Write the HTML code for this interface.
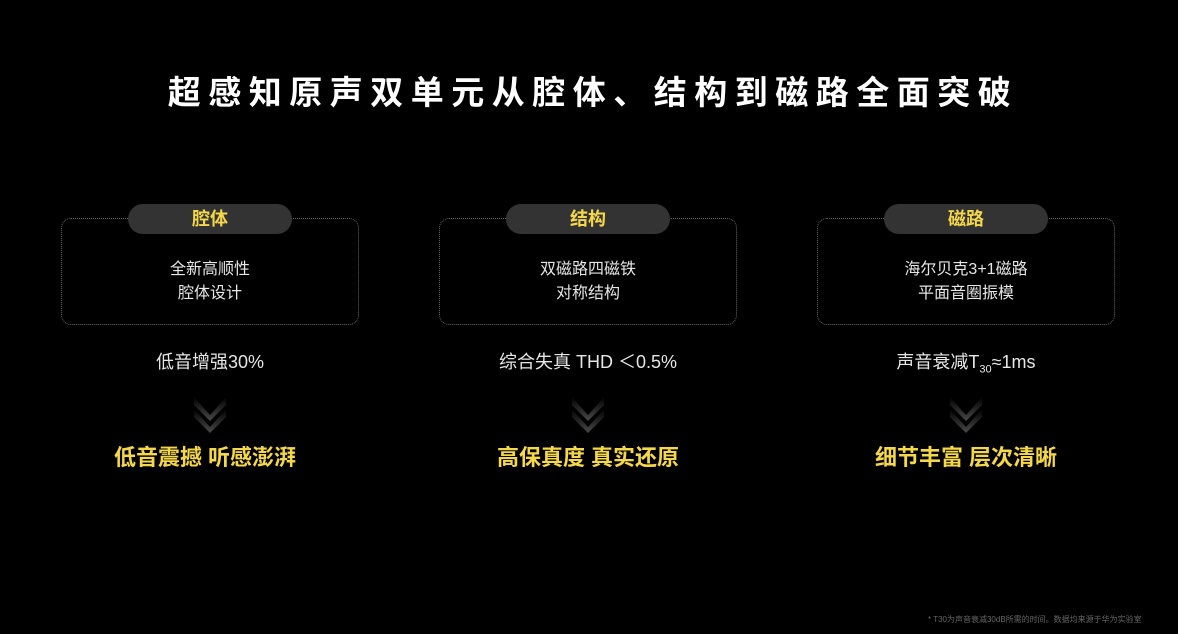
<!DOCTYPE html>
<html><head><meta charset="utf-8"><style>
html,body{margin:0;padding:0;background:#000;}
body{width:1178px;height:634px;position:relative;overflow:hidden;font-family:"Liberation Sans","Noto Sans CJK SC",sans-serif;color:#e6e6e6;}
.title{position:absolute;top:66px;left:4px;width:1178px;text-align:center;font-size:33px;font-weight:bold;color:#fff;letter-spacing:7.5px;}
.box{position:absolute;top:218px;width:298px;height:107px;border:1.5px dotted #666;border-radius:10px;box-sizing:border-box;}
.pill{position:absolute;top:204px;width:164px;height:30px;border-radius:15px;background:#333;color:#f5d84a;font-weight:bold;font-size:18px;text-align:center;line-height:30px;}
.desc{position:absolute;top:258px;width:298px;text-align:center;font-size:16px;line-height:24px;color:#e6e6e6;}
.metric{position:absolute;top:348px;width:300px;text-align:center;font-size:18px;color:#e6e6e6;}
.res{position:absolute;top:440px;width:300px;text-align:center;font-size:22px;font-weight:bold;color:#f5d84a;}
.chev{position:absolute;top:393px;width:40px;height:42px;}
.note{position:absolute;top:614px;left:928px;font-size:8px;color:#666;}
</style></head><body>
<div class="title">超感知原声双单元从腔体、结构到磁路全面突破</div>

<div class="box" style="left:61px"></div>
<div class="box" style="left:439px"></div>
<div class="box" style="left:817px"></div>
<div class="pill" style="left:128px">腔体</div>
<div class="pill" style="left:506px">结构</div>
<div class="pill" style="left:884px">磁路</div>
<div class="desc" style="left:61px">全新高顺性<br>腔体设计</div>
<div class="desc" style="left:439px">双磁路四磁铁<br>对称结构</div>
<div class="desc" style="left:817px">海尔贝克3+1磁路<br>平面音圈振模</div>
<div class="metric" style="left:60px">低音增强30%</div>
<div class="metric" style="left:438px">综合失真 THD ＜0.5%</div>
<div class="metric" style="left:816px">声音衰减T<sub style="font-size:11px">30</sub>≈1ms</div>

<svg class="chev" style="left:190px" viewBox="0 0 40 42"><defs><linearGradient id="g" x1="0" y1="0" x2="0" y2="1"><stop offset="0" stop-color="#000"/><stop offset="1" stop-color="#4a4a4a"/></linearGradient></defs><path d="M4 4 L20 22 L36 4 L36 12 L20 28 L4 12Z" fill="url(#g)"/><path d="M4 16 L20 34 L36 16 L36 24 L20 40 L4 24Z" fill="url(#g)"/></svg>
<svg class="chev" style="left:568px" viewBox="0 0 40 42"><path d="M4 4 L20 22 L36 4 L36 12 L20 28 L4 12Z" fill="url(#g)"/><path d="M4 16 L20 34 L36 16 L36 24 L20 40 L4 24Z" fill="url(#g)"/></svg>
<svg class="chev" style="left:946px" viewBox="0 0 40 42"><path d="M4 4 L20 22 L36 4 L36 12 L20 28 L4 12Z" fill="url(#g)"/><path d="M4 16 L20 34 L36 16 L36 24 L20 40 L4 24Z" fill="url(#g)"/></svg>

<div class="res" style="left:55px">低音震撼 听感澎湃</div>
<div class="res" style="left:438px">高保真度 真实还原</div>
<div class="res" style="left:816px">细节丰富 层次清晰</div>
<div class="note">* T30为声音衰减30dB所需的时间。数据均来源于华为实验室</div>
</body></html>
